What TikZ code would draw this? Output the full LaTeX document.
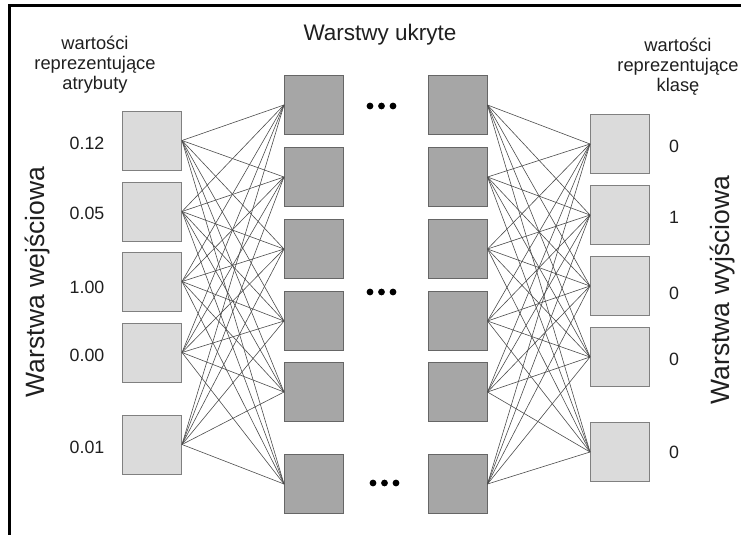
\documentclass[tikz,border=0pt]{standalone}
\usepackage{fontspec}
\setmainfont{Liberation Sans}
\begin{document}
\begin{tikzpicture}[x=1pt,y=-1pt,
  inbox/.style={draw=black!50,line width=1pt,fill=black!14,minimum width=59pt,minimum height=59pt,inner sep=0pt},
  hidbox/.style={draw=black!60,line width=1pt,fill=black!35,minimum width=59pt,minimum height=59pt,inner sep=0pt},
  link/.style={draw=black!70,line width=0.6pt},
  lbl/.style={text=black!88,font=\fontsize{18.3}{20}\selectfont,align=center,inner sep=0pt},
  val/.style={text=black!88,font=\fontsize{17.8}{20}\selectfont,inner sep=0pt},
  side/.style={text=black!88,font=\fontsize{26.5}{28}\selectfont,rotate=90,inner sep=0pt},
  dot/.style={circle,fill=black,minimum size=6.8pt,inner sep=0pt}]
\useasboundingbox (0,0) rectangle (741,535);
% frame (left and top edges)
\draw[line width=3pt] (9,535) -- (9,6) -- (741,6);

% input layer
\foreach \i/\y in {1/140.5,2/211.5,3/281.5,4/352.5,5/444.5}
  \node[inbox] (in\i) at (152,\y) {};
% hidden layers
\foreach \i/\y in {1/105,2/177,3/249,4/321,5/392,6/484}{
  \node[hidbox] (hl\i) at (314,\y) {};
  \node[hidbox] (hr\i) at (457.5,\y) {};
}
% output layer
\foreach \i/\y in {1/144,2/215,3/286,4/357,5/452}
  \node[inbox] (out\i) at (620,\y) {};

% connections
\foreach \i in {1,...,5}
  \foreach \j in {1,...,6}
    \draw[link] (in\i.east) -- (hl\j.west);
\foreach \j in {1,...,6}
  \foreach \k in {1,...,5}
    \draw[link] (hr\j.east) -- (out\k.west);

% ellipses between the hidden layers
\foreach \n/\x/\y in {a/370/106,b/370/292,c/373/483}{
  \node[dot] (d\n1) at (\x,\y) {};
  \node[dot] (d\n2) at (\x+11.5,\y) {};
  \node[dot] (d\n3) at (\x+23,\y) {};
}

% titles
\node[text=black!88,font=\fontsize{22.5}{24}\selectfont,inner sep=0pt] (thid) at (380,35) {Warstwy ukryte};
\node[lbl] (tin) at (95,65) {wartości\\reprezentujące\\atrybuty};
\node[lbl] (tout) at (678,67) {wartości\\reprezentujące\\klasę};

% side labels
\node[side] (sin) at (37,282) {Warstwa wejściowa};
\node[side] (sout) at (722,290) {Warstwa wyjściowa};

% input values
\node[val] (v1) at (87,143) {0.12};
\node[val] (v2) at (87,213) {0.05};
\node[val] (v3) at (87,287) {1.00};
\node[val] (v4) at (87,355) {0.00};
\node[val] (v5) at (87,447) {0.01};
% output values
\node[val] (o1) at (674,146) {0};
\node[val] (o2) at (674,217) {1};
\node[val] (o3) at (674,293) {0};
\node[val] (o4) at (674,359) {0};
\node[val] (o5) at (674,452) {0};
\end{tikzpicture}
\end{document}
